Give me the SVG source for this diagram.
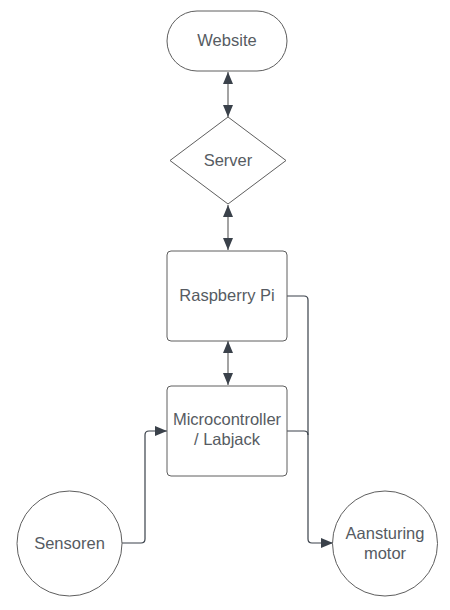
<svg xmlns="http://www.w3.org/2000/svg" width="450" height="610" viewBox="0 0 450 610">
<defs>
<style>
.node{fill:#ffffff;stroke:#5e5e5e;stroke-width:1}
.lbl{font-family:"Liberation Sans",Arial,sans-serif;font-size:16.5px;fill:#565b62;text-anchor:middle}
.dbl{fill:none;stroke:#a3a3a3;stroke-width:2}
.wire{fill:none;stroke:#3a414a;stroke-width:1.2}
</style>
<marker id="ah" viewBox="0 0 12 10" refX="12" refY="5" markerWidth="12" markerHeight="10" markerUnits="userSpaceOnUse" orient="auto-start-reverse">
<path d="M0,0 L12,5 L0,10 Z" fill="#3a414a"/>
</marker>
<marker id="ah2" viewBox="0 0 12 10" refX="12" refY="5" markerWidth="12" markerHeight="10" markerUnits="userSpaceOnUse" orient="auto">
<path d="M0,0 L12,5 L0,10 Z" fill="#3a414a"/>
</marker>
</defs>
<rect width="450" height="610" fill="#ffffff"/>
<g id="connectors">
<path class="dbl" d="M228,72 V117" marker-start="url(#ah)" marker-end="url(#ah)"/>
<path class="dbl" d="M228,205 V250" marker-start="url(#ah)" marker-end="url(#ah)"/>
<path class="dbl" d="M228,341 V385" marker-start="url(#ah)" marker-end="url(#ah)"/>
<path class="wire" d="M287,296 H304 Q308,296 308,300 V539 Q308,543 312,543 H333" marker-end="url(#ah2)"/>
<path class="wire" d="M287,431 H304 Q308,431 308,435"/>
<path class="wire" d="M122,543 H141 Q145,543 145,539 V435 Q145,431 149,431 H167" marker-end="url(#ah2)"/>
</g>
<g id="website">
<rect class="node" x="167" y="11" width="120" height="60" rx="30"/>
<text class="lbl" x="227" y="46">Website</text>
</g>
<g id="server">
<path class="node" d="M228,117 L286,160.5 L228,204 L170,160.5 Z" stroke-linejoin="round"/>
<text class="lbl" x="228" y="166">Server</text>
</g>
<g id="raspberry">
<rect class="node" x="167" y="251" width="120" height="90" rx="4"/>
<text class="lbl" x="227" y="301">Raspberry Pi</text>
</g>
<g id="micro">
<rect class="node" x="167" y="386" width="120" height="90" rx="4"/>
<text class="lbl" x="227" y="425">Microcontroller</text>
<text class="lbl" x="227" y="445">/ Labjack</text>
</g>
<g id="sensoren">
<circle class="node" cx="69.5" cy="543.5" r="52.5"/>
<text class="lbl" x="69.5" y="549">Sensoren</text>
</g>
<g id="motor">
<circle class="node" cx="385" cy="543.5" r="52.5"/>
<text class="lbl" x="385" y="539">Aansturing</text>
<text class="lbl" x="385" y="559">motor</text>
</g>
</svg>
